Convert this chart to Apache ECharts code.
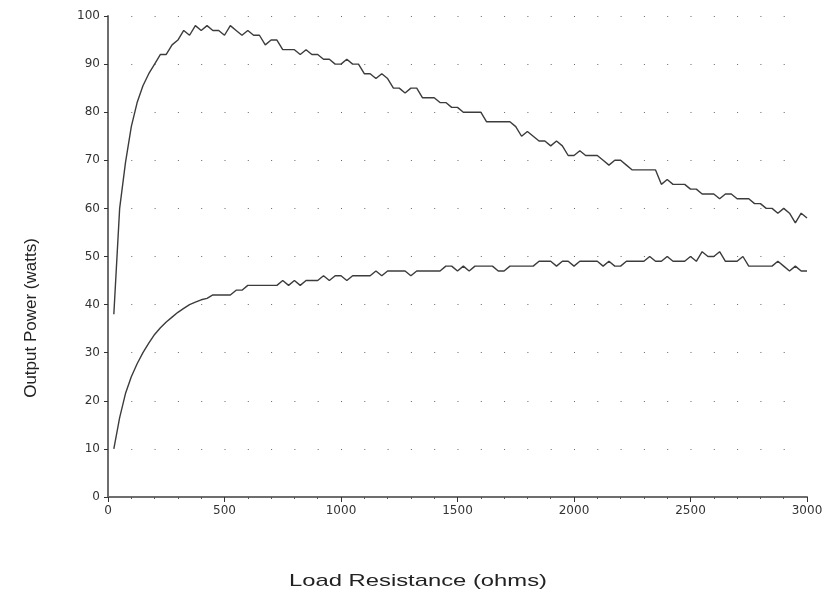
<!DOCTYPE html>
<html lang="en">
<head>
    <meta charset="UTF-8" />
    <title>Output Power vs Load Resistance</title>
    <script src="https://cdn.jsdelivr.net/npm/echarts@6/dist/echarts.min.js"></script>
</head>
<body style="margin:0">
<div id="main" style="width: 827px;height:600px;"></div>
<script type="text/javascript">
    // load resistance (ohms), one point every 25 ohms
    var resistance = [
        25, 50, 75, 100, 125, 150, 175, 200, 225, 250,
        275, 300, 325, 350, 375, 400, 425, 450, 475, 500,
        525, 550, 575, 600, 625, 650, 675, 700, 725, 750,
        775, 800, 825, 850, 875, 900, 925, 950, 975, 1000,
        1025, 1050, 1075, 1100, 1125, 1150, 1175, 1200, 1225, 1250,
        1275, 1300, 1325, 1350, 1375, 1400, 1425, 1450, 1475, 1500,
        1525, 1550, 1575, 1600, 1625, 1650, 1675, 1700, 1725, 1750,
        1775, 1800, 1825, 1850, 1875, 1900, 1925, 1950, 1975, 2000,
        2025, 2050, 2075, 2100, 2125, 2150, 2175, 2200, 2225, 2250,
        2275, 2300, 2325, 2350, 2375, 2400, 2425, 2450, 2475, 2500,
        2525, 2550, 2575, 2600, 2625, 2650, 2675, 2700, 2725, 2750,
        2775, 2800, 2825, 2850, 2875, 2900, 2925, 2950, 2975, 3000
    ];
    // upper curve (watts)
    var powerUpper = [
        38, 60, 69.5, 77, 82, 85.5, 88, 90, 92, 92,
        94, 95, 97, 96, 98, 97, 98, 97, 97, 96,
        98, 97, 96, 97, 96, 96, 94, 95, 95, 93,
        93, 93, 92, 93, 92, 92, 91, 91, 90, 90,
        91, 90, 90, 88, 88, 87, 88, 87, 85, 85,
        84, 85, 85, 83, 83, 83, 82, 82, 81, 81,
        80, 80, 80, 80, 78, 78, 78, 78, 78, 77,
        75, 76, 75, 74, 74, 73, 74, 73, 71, 71,
        72, 71, 71, 71, 70, 69, 70, 70, 69, 68,
        68, 68, 68, 68, 65, 66, 65, 65, 65, 64,
        64, 63, 63, 63, 62, 63, 63, 62, 62, 62,
        61, 61, 60, 60, 59, 60, 59, 57, 59, 58
    ];
    // lower curve (watts)
    var powerLower = [
        10, 16.5, 21.5, 25, 27.7, 30, 32, 33.8, 35.2, 36.4,
        37.4, 38.4, 39.2, 40, 40.5, 41, 41.3, 42, 42, 42,
        42, 43, 43, 44, 44, 44, 44, 44, 44, 45,
        44, 45, 44, 45, 45, 45, 46, 45, 46, 46,
        45, 46, 46, 46, 46, 47, 46, 47, 47, 47,
        47, 46, 47, 47, 47, 47, 47, 48, 48, 47,
        48, 47, 48, 48, 48, 48, 47, 47, 48, 48,
        48, 48, 48, 49, 49, 49, 48, 49, 49, 48,
        49, 49, 49, 49, 48, 49, 48, 48, 49, 49,
        49, 49, 50, 49, 49, 50, 49, 49, 49, 50,
        49, 51, 50, 50, 51, 49, 49, 49, 50, 48,
        48, 48, 48, 48, 49, 48, 47, 48, 47, 47
    ];

    function pairs(ys) {
        var out = [];
        for (var i = 0; i < resistance.length; i++) {
            out.push([resistance[i], ys[i]]);
        }
        return out;
    }

    var labelFont = {
        color: '#333',
        fontFamily: 'DejaVu Sans',
        fontSize: 12,
        formatter: function (v) { return String(v); }
    };
    var axisColor = '#6e6e6e';

    var myChart = echarts.init(document.getElementById('main'));
    var option = {
        animation: false,
        grid: {left: 108, right: 20, top: 16, bottom: 103},
        xAxis: {
            type: 'value',
            min: 0,
            max: 3000,
            interval: 500,
            axisLine: {lineStyle: {color: axisColor, width: 2}},
            axisTick: {length: 5, lineStyle: {color: '#333', width: 1}},
            minorTick: {show: true, splitNumber: 5, length: 2, lineStyle: {color: '#555'}},
            axisLabel: Object.assign({margin: 8}, labelFont),
            splitLine: {show: false}
        },
        yAxis: {
            type: 'value',
            min: 0,
            max: 100,
            interval: 10,
            axisLine: {show: true, lineStyle: {color: axisColor, width: 2}},
            axisTick: {show: true, length: 4, lineStyle: {color: '#333', width: 1}},
            axisLabel: Object.assign({margin: 8}, labelFont),
            splitLine: {
                show: true,
                lineStyle: {color: '#666', width: 1, type: [1, 22.3]}
            }
        },
        graphic: [
            {
                type: 'text',
                x: 418,
                y: 581,
                scaleX: 1.4,
                style: {
                    text: 'Load Resistance (ohms)',
                    fill: '#222',
                    font: '17px "Liberation Sans"',
                    align: 'center',
                    verticalAlign: 'middle'
                }
            },
            {
                type: 'text',
                x: 31,
                y: 318,
                rotation: Math.PI / 2,
                style: {
                    text: 'Output Power (watts)',
                    fill: '#222',
                    font: '17px "Liberation Sans"',
                    align: 'center',
                    verticalAlign: 'middle'
                }
            }
        ],
        series: [
            {
                name: 'upper',
                type: 'line',
                data: pairs(powerUpper),
                showSymbol: false,
                lineStyle: {color: '#3c3c3c', width: 1.4},
                silent: true
            },
            {
                name: 'lower',
                type: 'line',
                data: pairs(powerLower),
                showSymbol: false,
                lineStyle: {color: '#3c3c3c', width: 1.4},
                silent: true
            }
        ]
    };
    myChart.setOption(option);
</script>
</body>
</html>
